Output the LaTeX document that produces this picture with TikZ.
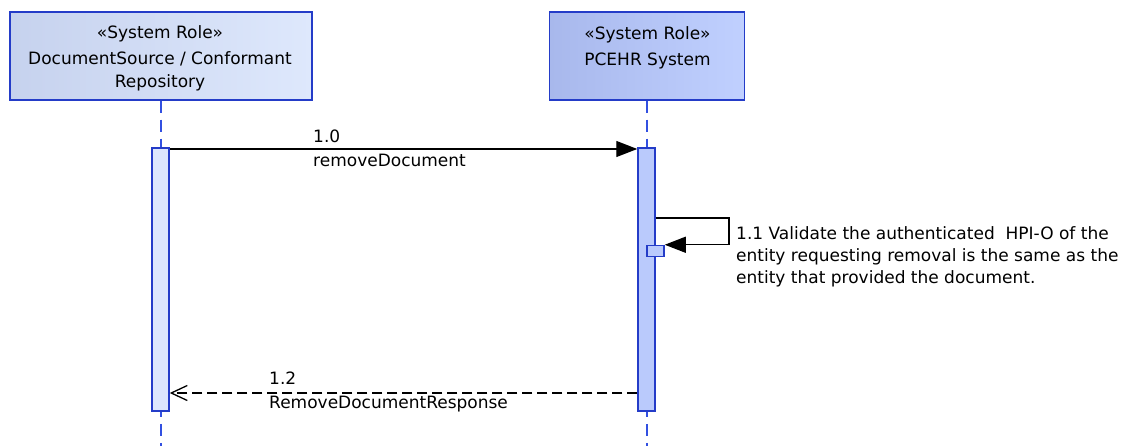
\documentclass[tikz,border=0pt]{standalone}
\usepackage{fontspec}
\setmainfont{DejaVu Sans}
\usetikzlibrary{positioning,arrows.meta}

\definecolor{roleline}{RGB}{36,60,200}
\definecolor{lifeline}{RGB}{50,80,225}
\definecolor{srcL}{RGB}{198,210,238}
\definecolor{srcR}{RGB}{222,232,252}
\definecolor{pcL}{RGB}{168,184,236}
\definecolor{pcR}{RGB}{192,208,255}
\definecolor{actL}{RGB}{220,230,253}
\definecolor{actR}{RGB}{186,202,252}

\begin{document}
\begin{tikzpicture}[x=1pt,y=-1pt,
	role/.style={draw=roleline,line width=1.5pt,minimum height=88pt,inner sep=0pt},
	roletext/.style={font=\fontsize{17}{22.5}\selectfont,align=center,inner sep=0pt,anchor=north},
	act/.style={draw=roleline,line width=1.5pt,minimum width=17pt,inner sep=0pt},
	life/.style={draw=lifeline,line width=1.8pt,dash pattern=on 12pt off 7pt},
	msg/.style={font=\fontsize{17}{24}\selectfont,align=left,anchor=west,inner sep=0pt},
	call/.style={-{Triangle[length=21pt,width=16pt]},line width=1.3pt},
	reply/.style={-{Straight Barb[length=16pt,width=15pt]},line width=1.3pt,dash pattern=on 10pt off 5pt}]
	\useasboundingbox (0,0) rectangle (1121,446);

	% roles
	\node[role,minimum width=302pt,left color=srcL,right color=srcR](src) at (161,56){};
	\node[role,minimum width=195pt,left color=pcL,right color=pcR](pcehr) at (647,56){};
	\node[roletext](src_t) at (160,25){«System Role»\\[4pt]DocumentSource / Conformant\\Repository};
	\node[roletext](pcehr_t) at (647.5,26){«System Role»\\[4pt]PCEHR System};

	% lifelines
	\coordinate (bottom) at (0,446);
	\draw[life] (src.south) -- (src.south |- bottom);
	\draw[life] (pcehr.south) -- (pcehr.south |- bottom);

	% activations
	\node[act,fill=actL,minimum height=263pt](src_act) at (160.5,279.5){};
	\node[act,fill=actR,minimum height=263pt](pcehr_act) at (646.5,279.5){};
	\node[act,fill=actR,minimum height=11pt](self_act) at (655.5,251){};

	% messages
	\coordinate (m_1) at (0,149);
	\coordinate (m_2) at (0,218);
	\coordinate (m_3) at (0,393);
	\coordinate (loop) at (729,0);
	\draw[call] (src_act.east |- m_1) -- (pcehr_act.west |- m_1);
	\draw[call] (pcehr_act.east |- m_2) -| (loop |- self_act.north) -- (self_act.north east);
	\draw[reply] (pcehr_act.west |- m_3) -- (src_act.east |- m_3);

	\node[msg](m_1_lbl) at (313,148){1.0\\removeDocument};
	\node[msg,font=\fontsize{17}{22}\selectfont](m_2_lbl) at (736,257){1.1 Validate the authenticated\ \ HPI-O of the\\entity requesting removal is the same as the\\entity that provided the document.};
	\node[msg](m_3_lbl) at (269,392){1.2\\RemoveDocumentResponse};
\end{tikzpicture}
\end{document}
